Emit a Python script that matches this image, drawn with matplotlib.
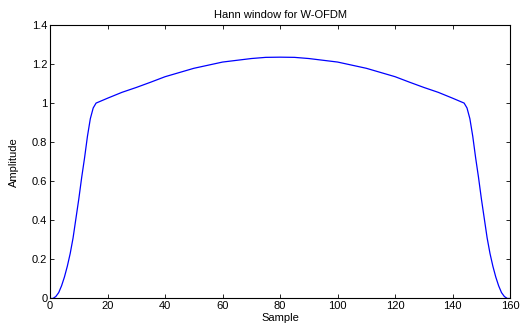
import matplotlib
matplotlib.use("Agg")
import matplotlib.pyplot as plt

# values
sample = [0, 1, 2, 3, 4, 5, 6, 7, 8, 9, 10, 11, 12, 13, 14, 15, 16,
          20, 25, 30, 35, 40, 50, 60, 70, 75, 80, 85, 90, 100, 110, 120, 125, 130, 135, 140,
          144, 145, 146, 147, 148, 149, 150, 151, 152, 153, 154, 155, 156, 157, 158, 159, 160]
amplitude = [0.0, 0.0, 0.01, 0.03, 0.065, 0.11, 0.165, 0.23, 0.31, 0.41, 0.51, 0.62, 0.72, 0.83, 0.92, 0.975, 1.0,
             1.025, 1.055, 1.08, 1.107, 1.135, 1.178, 1.21, 1.228, 1.234, 1.235, 1.234, 1.228, 1.21, 1.178, 1.135,
             1.107, 1.08, 1.055, 1.025,
             1.0, 0.975, 0.92, 0.83, 0.72, 0.62, 0.51, 0.41, 0.31, 0.23, 0.165, 0.11, 0.065, 0.03, 0.01, 0.0, 0.0]

xticks = [0, 20, 40, 60, 80, 100, 120, 140, 160]
yticks = [0, 0.2, 0.4, 0.6, 0.8, 1, 1.2, 1.4]
ytick_labels = ["0", "0.2", "0.4", "0.6", "0.8", "1", "1.2", "1.4"]

plt.rcParams["font.family"] = ["Liberation Sans", "DejaVu Sans"]

fig = plt.figure(figsize=(5.27, 3.28), dpi=100)
ax = fig.add_axes([0.095, 0.09, 0.873, 0.834])
ax.plot(sample, amplitude, color="#0000ff", linewidth=0.9)

ax.set_xlim(0, 160)
ax.set_ylim(0, 1.4)
ax.set_xticks(xticks)
ax.set_yticks(yticks)
ax.set_yticklabels(ytick_labels)
ax.tick_params(direction="in", top=True, right=True, labelsize=8, length=3, width=0.6, pad=2)
for s in ax.spines.values():
    s.set_linewidth(0.8)

ax.set_title("Hann window for W-OFDM", fontsize=8, pad=5)
ax.set_xlabel("Sample", fontsize=8, labelpad=1)
ax.set_ylabel("Amplitude", fontsize=8, labelpad=9)

fig.savefig("out.png", dpi=100)
